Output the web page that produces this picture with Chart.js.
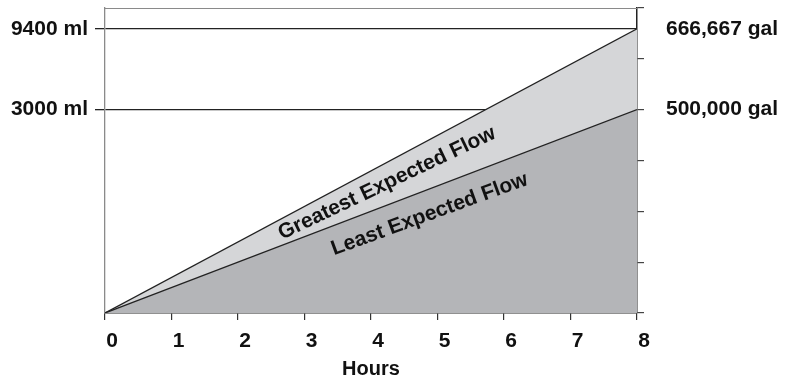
<!DOCTYPE html>
<html>
<head>
<meta charset="utf-8">
<script src="https://cdn.jsdelivr.net/npm/chart.js@4.4.1/dist/chart.umd.min.js"></script>
<style>
  body { margin: 0; background: #fff; }
  #chart { display: block; }
</style>
</head>
<body>
<canvas id="chart" width="785" height="381"></canvas>
<script>
// hours on the x axis
const hours = [0, 8];
// flow levels (in chart level units, 0..6) at 0 and 8 hours
const leastFlow = [0, 4.0];
const greatestFlow = [0, 5.59];

// left axis labels (ml) and the levels where they sit
const leftTickValues = [4.0, 5.59];
const leftTickLabels = ['3000 ml', '9400 ml'];

// right axis: tick marks every level, two labelled levels
const rightTickValues = [0, 1, 2, 3, 4, 5, 6];
const rightLabelValues = [4.0, 5.59];
const rightLabelTexts = ['500,000 gal', '666,667 gal'];

// area captions: [text, hour, level, angle in degrees]
const captions = [
  ['Greatest Expected Flow', 4.24, 2.55, 25.5],
  ['Least Expected Flow', 4.88, 1.94, 20.0],
];

const FAMILY = '"Liberation Sans", Arial, sans-serif';
const FONT = 'bold 21px ' + FAMILY;
const tickFont = { family: FAMILY, size: 21, weight: 'bold' };
const titleFont = { family: FAMILY, size: 20, weight: 'bold' };

const toPoints = (vals) => hours.map((h, i) => ({ x: h, y: vals[i] }));

// no extra room for half label heights, the frame is fixed
const fixVertical = (w) => (s) => { s.width = w; s.paddingTop = 0; s.paddingBottom = 0; };

// frame line on top + rotated captions
const extras = {
  id: 'extras',
  afterDraw(chart) {
    const ctx = chart.ctx;
    const a = chart.chartArea;
    ctx.save();
    ctx.strokeStyle = '#8a8a8a';
    ctx.lineWidth = 1.2;
    ctx.beginPath();
    ctx.moveTo(a.left, a.top + 0.5);
    ctx.lineTo(a.right, a.top + 0.5);
    ctx.stroke();

    const xs = chart.scales.x, ys = chart.scales.y;
    ctx.font = FONT;
    ctx.fillStyle = '#111';
    ctx.textAlign = 'center';
    ctx.textBaseline = 'middle';
    captions.forEach(([text, hx, lv, ang]) => {
      ctx.save();
      ctx.translate(xs.getPixelForValue(hx), ys.getPixelForValue(lv));
      ctx.rotate(-ang * Math.PI / 180);
      ctx.fillText(text, 0, 0);
      ctx.restore();
    });
    ctx.restore();
  }
};

new Chart(document.getElementById('chart'), {
  type: 'line',
  data: {
    datasets: [
      {
        label: 'Least Expected Flow',
        data: toPoints(leastFlow),
        borderColor: '#222',
        borderWidth: 1.3,
        backgroundColor: '#b4b5b8',
        fill: 'origin',
        pointRadius: 0,
        yAxisID: 'y',
      },
      {
        label: 'Greatest Expected Flow',
        data: toPoints(greatestFlow),
        borderColor: '#222',
        borderWidth: 1.3,
        backgroundColor: '#d5d6d8',
        fill: 'origin',
        pointRadius: 0,
        yAxisID: 'y',
      },
    ]
  },
  options: {
    responsive: false,
    animation: false,
    devicePixelRatio: 1,
    layout: { padding: { top: 8, left: 0, right: 0, bottom: 0 } },
    plugins: { legend: { display: false }, tooltip: { enabled: false } },
    scales: {
      x: {
        type: 'linear',
        min: 0,
        max: 8,
        afterFit: (s) => { s.height = 68; s.paddingLeft = 0; s.paddingRight = 0; },
        ticks: { stepSize: 1, color: '#111', font: tickFont, labelOffset: 7, padding: 9 },
        grid: { drawOnChartArea: false, tickLength: 7, color: '#333', lineWidth: 1.2 },
        border: { color: '#222', width: 1.5 },
        title: { display: true, text: 'Hours', color: '#111', font: titleFont, padding: { top: 0, bottom: 0 } },
      },
      y: {
        position: 'left',
        min: 0,
        max: 6,
        z: 1,
        afterFit: fixVertical(105),
        afterBuildTicks: (s) => { s.ticks = leftTickValues.map(v => ({ value: v })); },
        ticks: {
          autoSkip: false,
          color: '#111',
          font: tickFont,
          padding: 7,
          callback: (v) => leftTickLabels[leftTickValues.indexOf(v)] || '',
        },
        grid: { tickLength: 10, color: '#222', lineWidth: 1.3 },
        border: { color: '#8a8a8a', width: 1.3 },
      },
      y2: {
        position: 'right',
        min: 0,
        max: 6,
        afterFit: fixVertical(148),
        afterBuildTicks: (s) => {
          s.ticks = rightTickValues.concat(rightLabelValues.filter(v => !rightTickValues.includes(v)))
            .sort((p, q) => p - q).map(v => ({ value: v }));
        },
        ticks: {
          autoSkip: false,
          color: '#111',
          font: tickFont,
          padding: 22,
          callback: (v) => rightLabelTexts[rightLabelValues.indexOf(v)] || '',
        },
        grid: {
          drawOnChartArea: false,
          tickLength: 7,
          lineWidth: 1.2,
          color: (c) => rightTickValues.includes(c.tick.value) ? '#444' : 'rgba(0,0,0,0)',
        },
        border: { color: '#222', width: 1.5 },
      },
    }
  },
  plugins: [extras]
});
</script>
</body>
</html>
